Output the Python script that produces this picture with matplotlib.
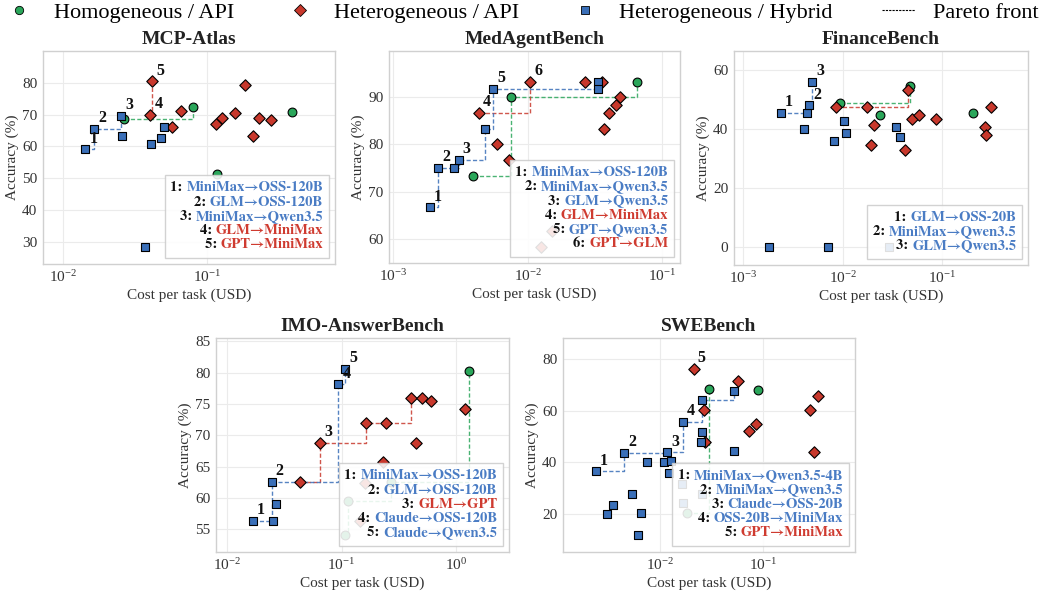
import numpy as np
import matplotlib
matplotlib.use("Agg")
from matplotlib import pyplot as plt
from matplotlib.lines import Line2D
from matplotlib.offsetbox import TextArea, HPacker, VPacker, AnchoredOffsetbox, DrawingArea

plt.rcParams['font.family'] = ['Liberation Serif', 'DejaVu Serif']
plt.rcParams['mathtext.fontset'] = 'stix'

GREEN = '#2aa65a'
RED = '#c8382c'
BLUE = '#3a6fb8'
TXT_BLUE = '#4a7cc4'
TXT_RED = '#cf3b30'
BOX_FONT = ['STIXGeneral', 'DejaVu Serif']

# ---- MCP-Atlas ----
mcp_homo_cost = [0.0267, 0.0807, 0.389, 0.1186]
mcp_homo_acc = [68.5, 72.4, 70.7, 51.3]
mcp_api_cost = [0.0417, 0.0407, 0.0571, 0.0664, 0.116, 0.1285, 0.157, 0.1846, 0.21, 0.23, 0.28]
mcp_api_acc = [80.4, 69.9, 66.1, 71.0, 67.1, 69.0, 70.4, 79.1, 63.3, 68.8, 68.3]
mcp_hyb_cost = [0.01437, 0.0166, 0.0254, 0.0258, 0.041, 0.0482, 0.0508, 0.0373]
mcp_hyb_acc = [59.1, 65.5, 69.5, 63.3, 60.8, 62.5, 66.2, 28.5]
mcp_names = ['MiniMax→OSS-120B', 'GLM→OSS-120B', 'MiniMax→Qwen3.5', 'GLM→MiniMax', 'GPT→MiniMax']

# ---- MedAgentBench ----
med_homo_cost = [0.00393, 0.00748, 0.0649]
med_homo_acc = [73.3, 90.0, 93.2]
med_api_cost = [0.00433, 0.00585, 0.00726, 0.01035, 0.0268, 0.0358, 0.0366, 0.0399, 0.0448, 0.0482, 0.0126, 0.015]
med_api_acc = [86.7, 80.0, 76.7, 93.3, 93.3, 93.3, 83.3, 86.7, 88.3, 90.0, 58.3, 61.6]
med_hyb_cost = [0.00187, 0.00216, 0.00284, 0.00306, 0.00482, 0.0055, 0.0331, 0.0331]
med_hyb_acc = [66.7, 75.0, 75.0, 76.7, 83.3, 91.7, 93.2, 91.7]
med_names = ['MiniMax→OSS-120B', 'MiniMax→Qwen3.5', 'GLM→Qwen3.5', 'GLM→MiniMax', 'GPT→Qwen3.5', 'GPT→GLM']

# ---- FinanceBench ----
fin_homo_cost = [0.0095, 0.024, 0.0473, 0.205]
fin_homo_acc = [48.7, 44.8, 54.7, 45.4]
fin_api_cost = [0.00853, 0.0174, 0.0195, 0.0207, 0.0422, 0.0459, 0.0504, 0.0588, 0.0863, 0.273, 0.279, 0.313]
fin_api_acc = [47.3, 47.3, 34.7, 41.3, 32.9, 53.2, 43.3, 44.7, 43.3, 40.75, 38.0, 47.3]
fin_hyb_cost = [0.00239, 0.0044, 0.0046, 0.00498, 0.00407, 0.00814, 0.01035, 0.01093, 0.0342, 0.0376, 0.0018, 0.0071, 0.0293]
fin_hyb_acc = [45.4, 45.4, 48.0, 55.9, 40.0, 35.9, 42.8, 38.8, 40.75, 37.4, 0.0, 0.0, 0.0]
fin_names = ['GLM→OSS-20B', 'MiniMax→Qwen3.5', 'GLM→Qwen3.5']

# ---- IMO-AnswerBench ----
imo_homo_cost = [0.107, 0.114, 0.273, 1.30]
imo_homo_acc = [54.1, 59.5, 62.5, 80.25]
imo_api_cost = [0.0435, 0.065, 0.163, 0.243, 0.409, 0.508, 0.612, 0.45, 1.20, 0.231, 0.16, 0.1445]
imo_api_acc = [62.6, 68.8, 71.9, 71.9, 75.9, 76.0, 75.5, 68.8, 74.2, 65.8, 62.4, 56.3]
imo_hyb_cost = [0.01675, 0.0252, 0.0244, 0.0267, 0.0935, 0.107]
imo_hyb_acc = [56.3, 56.3, 62.6, 59.1, 78.1, 80.6]
imo_names = ['MiniMax→OSS-120B', 'GLM→OSS-120B', 'GLM→GPT', 'Claude→OSS-120B', 'Claude→Qwen3.5']

# ---- SWEBench ----
swe_homo_cost = [0.0298, 0.0894, 0.018]
swe_homo_acc = [68.2, 68.0, 20.6]
swe_api_cost = [0.0211, 0.0264, 0.0272, 0.0569, 0.074, 0.0853, 0.291, 0.3515, 0.321]
swe_api_acc = [76.1, 60.1, 48.1, 71.6, 52.1, 54.8, 60.1, 65.8, 44.2]
swe_hyb_cost = [0.00232, 0.00443, 0.01153, 0.01644, 0.0256, 0.0524, 0.0256, 0.0252, 0.00746, 0.0108,
                0.0128, 0.0121, 0.00527, 0.00344, 0.00302, 0.00641, 0.006, 0.0524, 0.0161, 0.0168, 0.0256]
swe_hyb_acc = [36.55, 43.7, 43.9, 55.8, 64.2, 67.7, 51.7, 48.1, 40.0, 40.3,
               40.7, 36.0, 27.8, 23.75, 20.1, 20.5, 11.85, 44.4, 31.6, 24.4, 28.0]
swe_names = ['MiniMax→Qwen3.5-4B', 'MiniMax→Qwen3.5', 'Claude→OSS-20B', 'OSS-20B→MiniMax', 'GPT→MiniMax']


def pareto(cost, acc):
    cost = np.asarray(cost)
    acc = np.asarray(acc)
    order = np.lexsort((-acc, cost))
    fx, fy = [], []
    best = -np.inf
    for i in order:
        if acc[i] <= 0:
            continue
        if acc[i] > best:
            best = acc[i]
            fx.append(cost[i])
            fy.append(acc[i])
    return fx, fy


def panel(ax, title, homo, api, hyb, names, xlim, ylim, yticks):
    ax.set_xscale('log')
    ax.set_facecolor('white')
    ax.grid(True, which='major', color='#ebebeb', linewidth=0.8, zorder=0)
    ax.set_axisbelow(True)
    for s in ax.spines.values():
        s.set_color('#d0d0d0')
        s.set_linewidth(1.0)
    ax.tick_params(which='both', length=0, labelsize=11, colors='#333333', pad=4)
    ax.minorticks_off()

    groups = [(homo, 'o', GREEN, 40), (api, 'D', RED, 34), (hyb, 's', BLUE, 40)]
    for (c, a), mk, col, sz in groups:
        fx, fy = pareto(c, a)
        if len(fx) > 1:
            ax.step(fx, fy, where='post', color=col, lw=1.0, ls=(0, (3, 1.6)), alpha=0.85, zorder=2)
        ax.scatter(c, a, marker=mk, s=sz, color=col, edgecolor='black', linewidth=0.8, zorder=3)

    # overall front of heterogeneous systems
    hc = list(api[0]) + list(hyb[0])
    ha = list(api[1]) + list(hyb[1])
    kinds = ['api'] * len(api[0]) + ['hyb'] * len(hyb[0])
    fx, fy = pareto(hc, ha)
    rows = []
    for k, (x, y) in enumerate(zip(fx, fy)):
        ax.annotate(str(k + 1), (x, y), xytext=(3, 2), textcoords='offset points',
                    ha='left', va='bottom', fontsize=11.5, fontweight='bold', color='#111111', zorder=6)
        idx = [i for i in range(len(hc)) if hc[i] == x and ha[i] == y][0]
        col = TXT_RED if kinds[idx] == 'api' else TXT_BLUE
        rows.append(HPacker(children=[
            DrawingArea(0, 10.3, 0, 2.7),
            TextArea(f'{k + 1}: ', textprops=dict(color='#111111', fontsize=10.5, fontweight='bold', family=BOX_FONT)),
            TextArea(names[k], textprops=dict(color=col, fontsize=10.5, fontweight='bold', family=BOX_FONT))],
            align='baseline', pad=0, sep=0))
    box = VPacker(children=rows, align='right', pad=0, sep=0)
    anch = AnchoredOffsetbox(loc='lower right', child=box, pad=0.4, borderpad=0.45, frameon=True)
    anch.patch.set_facecolor('white')
    anch.patch.set_alpha(0.88)
    anch.patch.set_edgecolor('#cccccc')
    anch.patch.set_boxstyle('square', pad=0)
    anch.set_zorder(10)
    ax.add_artist(anch)

    ax.set_xlim(*xlim)
    ax.set_ylim(*ylim)
    ax.set_yticks(yticks)
    ax.set_title(title, fontsize=14, fontweight='bold', color='#222222', pad=5)
    ax.set_xlabel('Cost per task (USD)', fontsize=11, color='#333333', labelpad=2)
    ax.set_ylabel('Accuracy (%)', fontsize=11, color='#333333', labelpad=2)


W, H = 1041, 594
fig = plt.figure(figsize=(W / 100, H / 100), dpi=100)


def add_ax(x0, y0, x1, y1):
    return fig.add_axes([x0 / W, 1 - y1 / H, (x1 - x0) / W, (y1 - y0) / H])


panel(add_ax(43, 51, 335, 264), 'MCP-Atlas',
      (mcp_homo_cost, mcp_homo_acc), (mcp_api_cost, mcp_api_acc), (mcp_hyb_cost, mcp_hyb_acc),
      mcp_names, (0.0073, 0.78), (23.2, 89.9), [30, 40, 50, 60, 70, 80])
panel(add_ax(389, 51, 680, 263), 'MedAgentBench',
      (med_homo_cost, med_homo_acc), (med_api_cost, med_api_acc), (med_hyb_cost, med_hyb_acc),
      med_names, (0.00093, 0.135), (54.9, 99.8), [60, 70, 80, 90])
panel(add_ax(734, 51, 1028, 265), 'FinanceBench',
      (fin_homo_cost, fin_homo_acc), (fin_api_cost, fin_api_acc), (fin_hyb_cost, fin_hyb_acc),
      fin_names, (0.00081, 0.73), (-6.0, 66.4), [0, 20, 40, 60])
panel(add_ax(216, 338, 509, 552), 'IMO-AnswerBench',
      (imo_homo_cost, imo_homo_acc), (imo_api_cost, imo_api_acc), (imo_hyb_cost, imo_hyb_acc),
      imo_names, (0.00796, 2.93), (51.4, 85.5), [55, 60, 65, 70, 75, 80, 85])
panel(add_ax(563, 338, 855, 552), 'SWEBench',
      (swe_homo_cost, swe_homo_acc), (swe_api_cost, swe_api_acc), (swe_hyb_cost, swe_hyb_acc),
      swe_names, (0.00111, 0.804), (5.4, 88.1), [20, 40, 60, 80])

handles = [
    Line2D([], [], ls='', marker='o', color=GREEN, mec='black', mew=0.6, ms=6),
    Line2D([], [], ls='', marker='D', color=RED, mec='black', mew=0.6, ms=6),
    Line2D([], [], ls='', marker='s', color=BLUE, mec='black', mew=0.6, ms=6),
    Line2D([], [], ls=(0, (2, 1)), color='black', lw=0.8),
]
labels = ['Homogeneous / API', 'Heterogeneous / API', 'Heterogeneous / Hybrid', 'Pareto front']
fig.legend(handles, labels, loc='upper center', bbox_to_anchor=(0.5, 1.03), ncol=4, frameon=False,
           fontsize=16, columnspacing=2.2, handlelength=1.5, handletextpad=0.8)

fig.savefig('out.png', dpi=100)
